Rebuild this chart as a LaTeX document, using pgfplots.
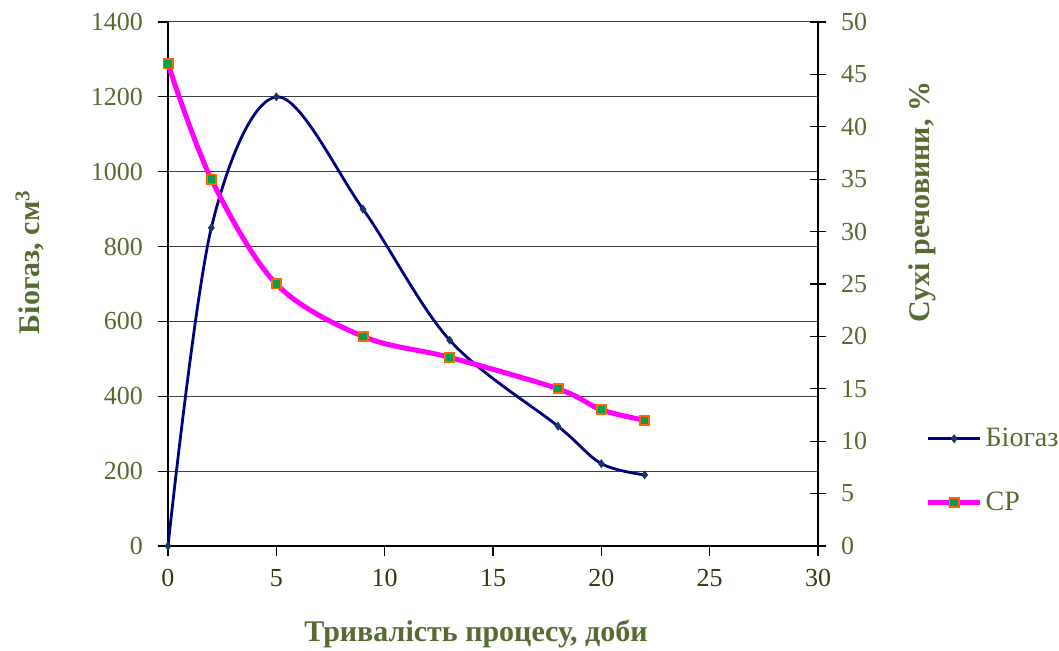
\documentclass[border=0pt]{standalone}
\usepackage{pgfplots}
\pgfplotsset{compat=1.18}
\usepackage{fontspec}
\setmainfont{Liberation Serif}
\definecolor{olivetxt}{RGB}{85,107,50}
\definecolor{darktxt}{RGB}{55,55,15}
\definecolor{bionavy}{RGB}{0,0,128}
\definecolor{biomark}{RGB}{20,55,100}
\definecolor{cpmag}{RGB}{255,0,255}
\definecolor{cporange}{RGB}{255,102,0}
\definecolor{cpgreen}{RGB}{0,160,80}
\begin{document}
\begin{tikzpicture}[x=1pt,y=1pt]
\useasboundingbox (0,0) rectangle (529.5,325.5);
\begin{axis}[
  at={(84pt,52.5pt)}, anchor=south west,
  width=325pt, height=262pt, scale only axis,
  xmin=0, xmax=30, ymin=0, ymax=1400,
  xtick={0,5,...,30}, ytick={0,200,...,1400},
  axis x line*=bottom, axis y line*=left,
  axis line style={black, line width=0.8pt, -},
  ymajorgrids, grid style={black!75, line width=0.5pt},
  tick align=outside, major tick length=5pt,
  tick style={black, line width=0.6pt},
  xticklabel style={font=\fontsize{13}{15}\selectfont, text=darktxt, yshift=-3pt},
  yticklabel style={font=\fontsize{13}{15}\selectfont, text=olivetxt, xshift=-4pt},
  /pgf/number format/assume math mode=true,
  /pgf/number format/1000 sep={},
  clip=false,
]
\addplot[bionavy, line width=1.4pt, smooth, tension=0.55,
  mark=diamond*, mark size=2pt, mark options={fill=biomark, draw=biomark, line width=0.3pt}]
  coordinates {(0,0) (2,850) (5,1200) (9,900) (13,550) (18,320) (20,220) (22,190)};
\end{axis}
\begin{axis}[
  at={(84pt,52.5pt)}, anchor=south west,
  width=325pt, height=262pt, scale only axis,
  xmin=0, xmax=30, ymin=0, ymax=50,
  ytick={0,5,...,50},
  axis x line=none, axis y line*=right,
  axis line style={black, line width=0.8pt, -},
  tick align=center, major tick length=8pt,
  tick style={black, line width=0.6pt},
  yticklabel style={font=\fontsize{13}{15}\selectfont, text=olivetxt, xshift=4pt},
  /pgf/number format/assume math mode=true,
  clip=false,
  legend style={at={(1.165,0.144)}, anchor=west, draw=none, fill=none,
    font=\fontsize{14}{16}\selectfont, text=olivetxt, row sep=18pt,
    inner sep=0pt, nodes={inner sep=1.5pt}},
  legend cell align=left,
  legend image code/.code={\draw[mark repeat=2,mark phase=2,#1] plot coordinates {(0pt,0pt) (13pt,0pt) (26pt,0pt)};},
]
\addlegendimage{bionavy, line width=1.4pt, mark=diamond*, mark size=2pt, mark options={fill=biomark, draw=biomark, line width=0.3pt}}
\addlegendentry{Біогаз}
\addplot[cpmag, line width=2.5pt, smooth, tension=0.55,
  mark=square*, mark size=2.3pt, mark options={fill=cpgreen, draw=cporange, line width=0.9pt}]
  coordinates {(0,46) (2,35) (5,25) (9,20) (13,18) (18,15) (20,13) (22,12)};
\addlegendentry{СР}
\end{axis}
\node[rotate=90, font=\bfseries\fontsize{15}{17}\selectfont, text=olivetxt] at (15,194.5) {Біогаз, см\textsuperscript{3}};
\node[rotate=90, font=\bfseries\fontsize{15}{17}\selectfont, text=olivetxt] at (461,224.5) {Сухі речовини, \%};
\node[font=\bfseries\fontsize{15}{17}\selectfont, text=olivetxt] at (238,8.5) {Тривалість процесу, доби};
\end{tikzpicture}
\end{document}
